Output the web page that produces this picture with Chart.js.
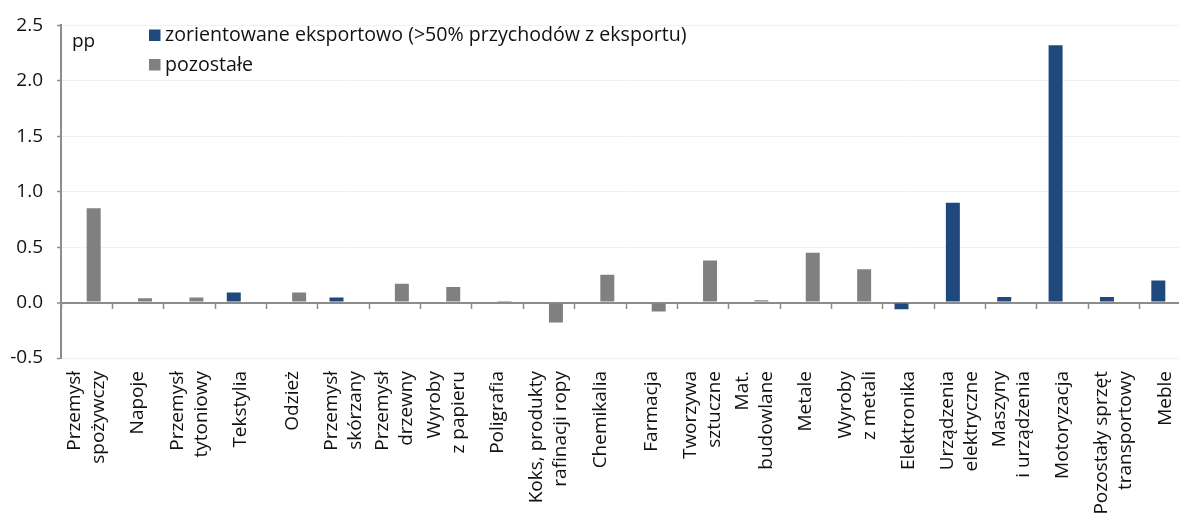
<!DOCTYPE html>
<html><head><meta charset="UTF-8"><title>Zmiana produkcji wg branż</title>
<script src="https://cdn.jsdelivr.net/npm/chart.js"></script>
<style>
    html, body { margin: 0; padding: 0; background: #fff; overflow: hidden; }
    #wrap { width: 1192px; height: 515px; position: relative; }
</style></head><body>
<div id="wrap"><canvas id="mainChart"></canvas></div>
<script>
// --- dane ---
const categories = [
    ['Przemysł', 'spożywczy'], ['Napoje'], ['Przemysł', 'tytoniowy'], ['Tekstylia'], ['Odzież'],
    ['Przemysł', 'skórzany'], ['Przemysł', 'drzewny'], ['Wyroby', 'z papieru'], ['Poligrafia'],
    ['Koks, produkty', 'rafinacji ropy'], ['Chemikalia'], ['Farmacja'], ['Tworzywa', 'sztuczne'],
    ['Mat.', 'budowlane'], ['Metale'], ['Wyroby', 'z metali'], ['Elektronika'],
    ['Urządzenia', 'elektryczne'], ['Maszyny', 'i urządzenia'], ['Motoryzacja'],
    ['Pozostały sprzęt', 'transportowy'], ['Meble']
];
const exportOriented = [null, null, null, 0.09, null, 0.045, null, null, null, null, null,
    null, null, null, null, null, -0.06, 0.90, 0.05, 2.32, 0.05, 0.20];
const others = [0.85, 0.04, 0.045, null, 0.09, null, 0.17, 0.14, 0.015, -0.18, 0.25,
    -0.08, 0.38, 0.02, 0.45, 0.30, null, null, null, null, null, null];
const seriesNames = ['zorientowane eksportowo (>50% przychodów z eksportu)', 'pozostałe'];
const unitLabel = 'pp';

const BLUE = '#1f497d', GRAY = '#808080', AXIS = '#8c8c8c', TXT = '#111';
const FONT = '"Open Sans", sans-serif';
const FS = 19;

// legenda, "pp" i podpisy osi X rysowane recznie
const extras = {
    id: 'extras',
    afterDraw(chart) {
        const ctx = chart.ctx, area = chart.chartArea, xs = chart.scales.x;
        ctx.save();
        ctx.fillStyle = TXT;
        ctx.font = FS + 'px ' + FONT;
        ctx.textAlign = 'left';
        ctx.textBaseline = 'alphabetic';
        ctx.fillText(unitLabel, area.left + 11, 47);

        ctx.font = '19.6px ' + FONT;
        [BLUE, GRAY].forEach((c, i) => {
            const base = 41 + i * 29.5;
            ctx.fillStyle = c;
            ctx.fillRect(area.left + 88, base - 11.5, 11.5, 11.5);
            ctx.fillStyle = TXT;
            ctx.fillText(seriesNames[i], area.left + 104, base);
        });

        // podpisy kategorii, obrocone o 90 stopni, wysrodkowane
        const lh = 24;
        ctx.font = FS + 'px ' + FONT;
        ctx.textAlign = 'right';
        ctx.textBaseline = 'middle';
        categories.forEach((lines, i) => {
            const px = xs.getPixelForValue(i);
            ctx.save();
            ctx.translate(px, area.bottom + 13);
            ctx.rotate(-Math.PI / 2);
            lines.forEach((ln, j) => {
                ctx.fillText(ln, 0, (j - (lines.length - 1) / 2) * lh);
            });
            ctx.restore();
        });
        ctx.restore();
    }
};

new Chart(document.getElementById('mainChart').getContext('2d'), {
    type: 'bar',
    data: {
        labels: categories.map(c => c.join(' ')),
        datasets: [
            { label: seriesNames[0], data: exportOriented, backgroundColor: BLUE },
            { label: seriesNames[1], data: others, backgroundColor: GRAY }
        ]
    },
    options: {
        responsive: true, maintainAspectRatio: false, animation: false,
        categoryPercentage: 0.545, barPercentage: 1,
        layout: { padding: { top: 24, bottom: 157, left: 0, right: 1 } },
        plugins: { legend: { display: false }, tooltip: { enabled: false } },
        scales: {
            x: {
                position: { y: 0 },
                afterFit: s => { s.height = 0; },
                ticks: { display: false },
                grid: { display: true, offset: true, drawOnChartArea: false, drawTicks: true, tickLength: 5, tickColor: AXIS, tickWidth: 1.5 },
                border: { display: true, color: AXIS, width: 2 }
            },
            y: {
                min: -0.5, max: 2.5,
                afterFit: s => { s.width = 61; },
                ticks: { stepSize: 0.5, padding: 14, color: TXT, font: { family: FONT, size: FS },
                    callback: v => v.toFixed(1) },
                grid: {
                    color: c => c.tick && c.tick.value === 0 ? AXIS : '#f1f1f1',
                    lineWidth: c => c.tick && c.tick.value === 0 ? 2 : 1,
                    tickLength: 4, tickColor: AXIS, tickWidth: 1.5
                },
                border: { display: true, color: AXIS, width: 2 }
            }
        }
    },
    plugins: [extras]
});
</script>
</body></html>
